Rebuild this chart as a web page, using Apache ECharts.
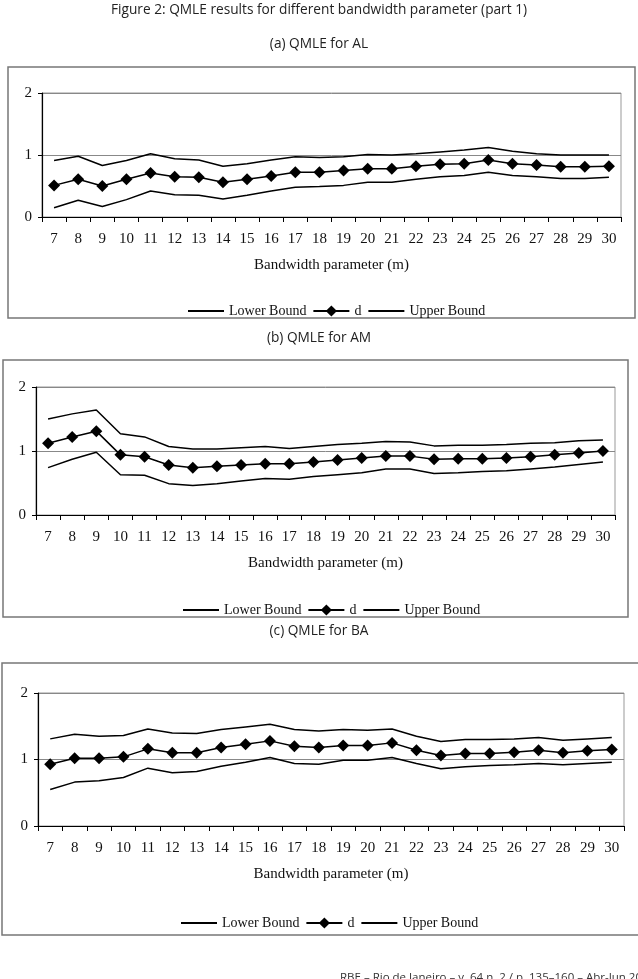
<!DOCTYPE html>
<html>
<head>
<meta charset="utf-8">
<script src="https://cdn.jsdelivr.net/npm/echarts@6/dist/echarts.min.js"></script>
<style>
html,body{margin:0;padding:0;background:#fff;}
#main{width:638px;height:979px;}
</style>
</head>
<body>
<div id="main"></div>
<script>
// ---- data ----
const categories = ['7','8','9','10','11','12','13','14','15','16','17','18','19','20','21','22','23','24','25','26','27','28','29','30'];
const yTicks = [0, 1, 2];

const alLower = [0.15,0.27,0.17,0.28,0.42,0.36,0.35,0.29,0.35,0.42,0.48,0.49,0.51,0.56,0.56,0.61,0.65,0.67,0.72,0.67,0.65,0.62,0.62,0.64];
const alD     = [0.51,0.61,0.50,0.61,0.71,0.65,0.64,0.56,0.61,0.66,0.72,0.72,0.75,0.78,0.78,0.82,0.85,0.86,0.92,0.86,0.84,0.81,0.81,0.82];
const alUpper = [0.91,0.98,0.83,0.91,1.02,0.94,0.92,0.82,0.86,0.92,0.97,0.96,0.97,1.01,1.00,1.02,1.05,1.08,1.12,1.06,1.02,1.00,1.00,1.00];

const amLower = [0.74,0.87,0.98,0.63,0.62,0.49,0.46,0.49,0.53,0.57,0.56,0.60,0.63,0.66,0.72,0.72,0.65,0.66,0.68,0.69,0.72,0.75,0.79,0.83];
const amD     = [1.12,1.22,1.31,0.94,0.91,0.78,0.74,0.76,0.78,0.80,0.80,0.83,0.86,0.89,0.92,0.92,0.87,0.88,0.88,0.89,0.91,0.94,0.97,1.00];
const amUpper = [1.50,1.58,1.64,1.27,1.22,1.07,1.03,1.03,1.05,1.07,1.04,1.07,1.10,1.12,1.15,1.14,1.08,1.09,1.09,1.10,1.12,1.13,1.16,1.17];

const baLower = [0.55,0.66,0.68,0.73,0.87,0.80,0.82,0.90,0.96,1.03,0.94,0.93,0.99,0.99,1.03,0.94,0.86,0.89,0.91,0.92,0.94,0.92,0.94,0.96];
const baD     = [0.93,1.02,1.02,1.04,1.16,1.10,1.10,1.18,1.23,1.28,1.20,1.18,1.21,1.21,1.25,1.14,1.06,1.09,1.09,1.11,1.14,1.10,1.13,1.15];
const baUpper = [1.31,1.38,1.35,1.36,1.46,1.40,1.39,1.45,1.49,1.53,1.45,1.43,1.45,1.44,1.46,1.35,1.27,1.30,1.30,1.31,1.33,1.29,1.31,1.33];

const panelTitles = ['(a) QMLE for AL', '(b) QMLE for AM', '(c) QMLE for BA'];
const figureTitle = 'Figure 2: QMLE results for different bandwidth parameter (part 1)';
const footerText = 'RBE – Rio de Janeiro – v. 64 n. 2 / p. 135–160 – Abr-Jun 2010';
const xName = 'Bandwidth parameter (m)';
const seriesNames = ['Lower Bound', 'd', 'Upper Bound'];

const panels = [
  {lower: alLower, d: alD, upper: alUpper},
  {lower: amLower, d: amD, upper: amUpper},
  {lower: baLower, d: baD, upper: baUpper}
];

// ---- layout ----
const SERIF = '"Liberation Serif", "DejaVu Serif", serif';
const SANS = '"Open Sans", "Noto Sans", sans-serif';
const layout = [
  {grid:{left:42, right:17, top:93, height:124}, frame:{x:8,y:67,w:627,h:251}, title:45, legend:{left:182, top:299}},
  {grid:{left:36, right:23, top:387, height:128}, frame:{x:3,y:360,w:625,h:257}, title:339, legend:{left:177, top:598}},
  {grid:{left:38, right:14, top:693, height:133}, frame:{x:2,y:663,w:640,h:272}, title:632, legend:{left:175, top:911}}
];

const chart = echarts.init(document.getElementById('main'), null, {renderer:'canvas'});

const grids = [], xAxes = [], yAxes = [], series = [], legends = [], graphics = [];

graphics.push({type:'text', left:'center', top:3, style:{text:figureTitle, font:'13.7px ' + SANS, fill:'#222'}});

layout.forEach((L, i) => {
  grids.push(Object.assign({show:true, borderColor:'#999', borderWidth:1, backgroundColor:'transparent'}, L.grid));
  xAxes.push({
    type:'category', gridIndex:i, data:categories, boundaryGap:true,
    name:xName, nameLocation:'middle', nameGap:41,
    nameTextStyle:{fontFamily:SERIF, fontSize:15, color:'#111'},
    axisLine:{lineStyle:{color:'#000', width:1.2}},
    axisTick:{show:true, length:5, interval:0, lineStyle:{color:'#000'}},
    axisLabel:{interval:0, margin:15, fontFamily:SERIF, fontSize:15, color:'#111'},
    splitLine:{show:false}
  });
  yAxes.push({
    type:'value', gridIndex:i, min:yTicks[0], max:yTicks[yTicks.length-1], interval:1,
    axisLine:{show:true, lineStyle:{color:'#000', width:1.2}},
    axisTick:{show:true, length:4, lineStyle:{color:'#000'}},
    axisLabel:{margin:10, fontFamily:SERIF, fontSize:15, color:'#111'},
    splitLine:{show:true, lineStyle:{color:'#888', width:1}}
  });
  const P = panels[i];
  series.push({name:seriesNames[0], type:'line', xAxisIndex:i, yAxisIndex:i, data:P.lower, symbol:'none', lineStyle:{color:'#000', width:1.5}, itemStyle:{color:'#000'}, animation:false});
  series.push({name:seriesNames[1], type:'line', xAxisIndex:i, yAxisIndex:i, data:P.d, symbol:'diamond', symbolSize:12, showSymbol:true, lineStyle:{color:'#000', width:1.5}, itemStyle:{color:'#000'}, animation:false});
  series.push({name:seriesNames[2], type:'line', xAxisIndex:i, yAxisIndex:i, data:P.upper, symbol:'none', lineStyle:{color:'#000', width:1.5}, itemStyle:{color:'#000'}, animation:false});
  legends.push({
    data:[
      {name:seriesNames[0], itemStyle:{opacity:0}},
      {name:seriesNames[1]},
      {name:seriesNames[2], itemStyle:{opacity:0}}
    ],
    left:L.legend.left, top:L.legend.top, itemWidth:36, itemHeight:14, itemGap:6,
    textStyle:{fontFamily:SERIF, fontSize:14, color:'#111'}, selectedMode:false
  });
  graphics.push({type:'rect', shape:{x:L.frame.x, y:L.frame.y, width:L.frame.w, height:L.frame.h}, style:{fill:'none', stroke:'#777', lineWidth:1.5}, silent:true, z:-1});
  graphics.push({type:'text', left:'center', top:L.title - 8, style:{text:panelTitles[i], font:'13.7px ' + SANS, fill:'#222'}});
});

graphics.push({type:'text', left:340, top:972, style:{text:footerText, font:'11.5px ' + SANS, fill:'#333'}});

chart.setOption({
  animation:false,
  backgroundColor:'#fff',
  grid:grids, xAxis:xAxes, yAxis:yAxes, series:series, legend:legends, graphic:graphics
});
</script>
</body>
</html>
